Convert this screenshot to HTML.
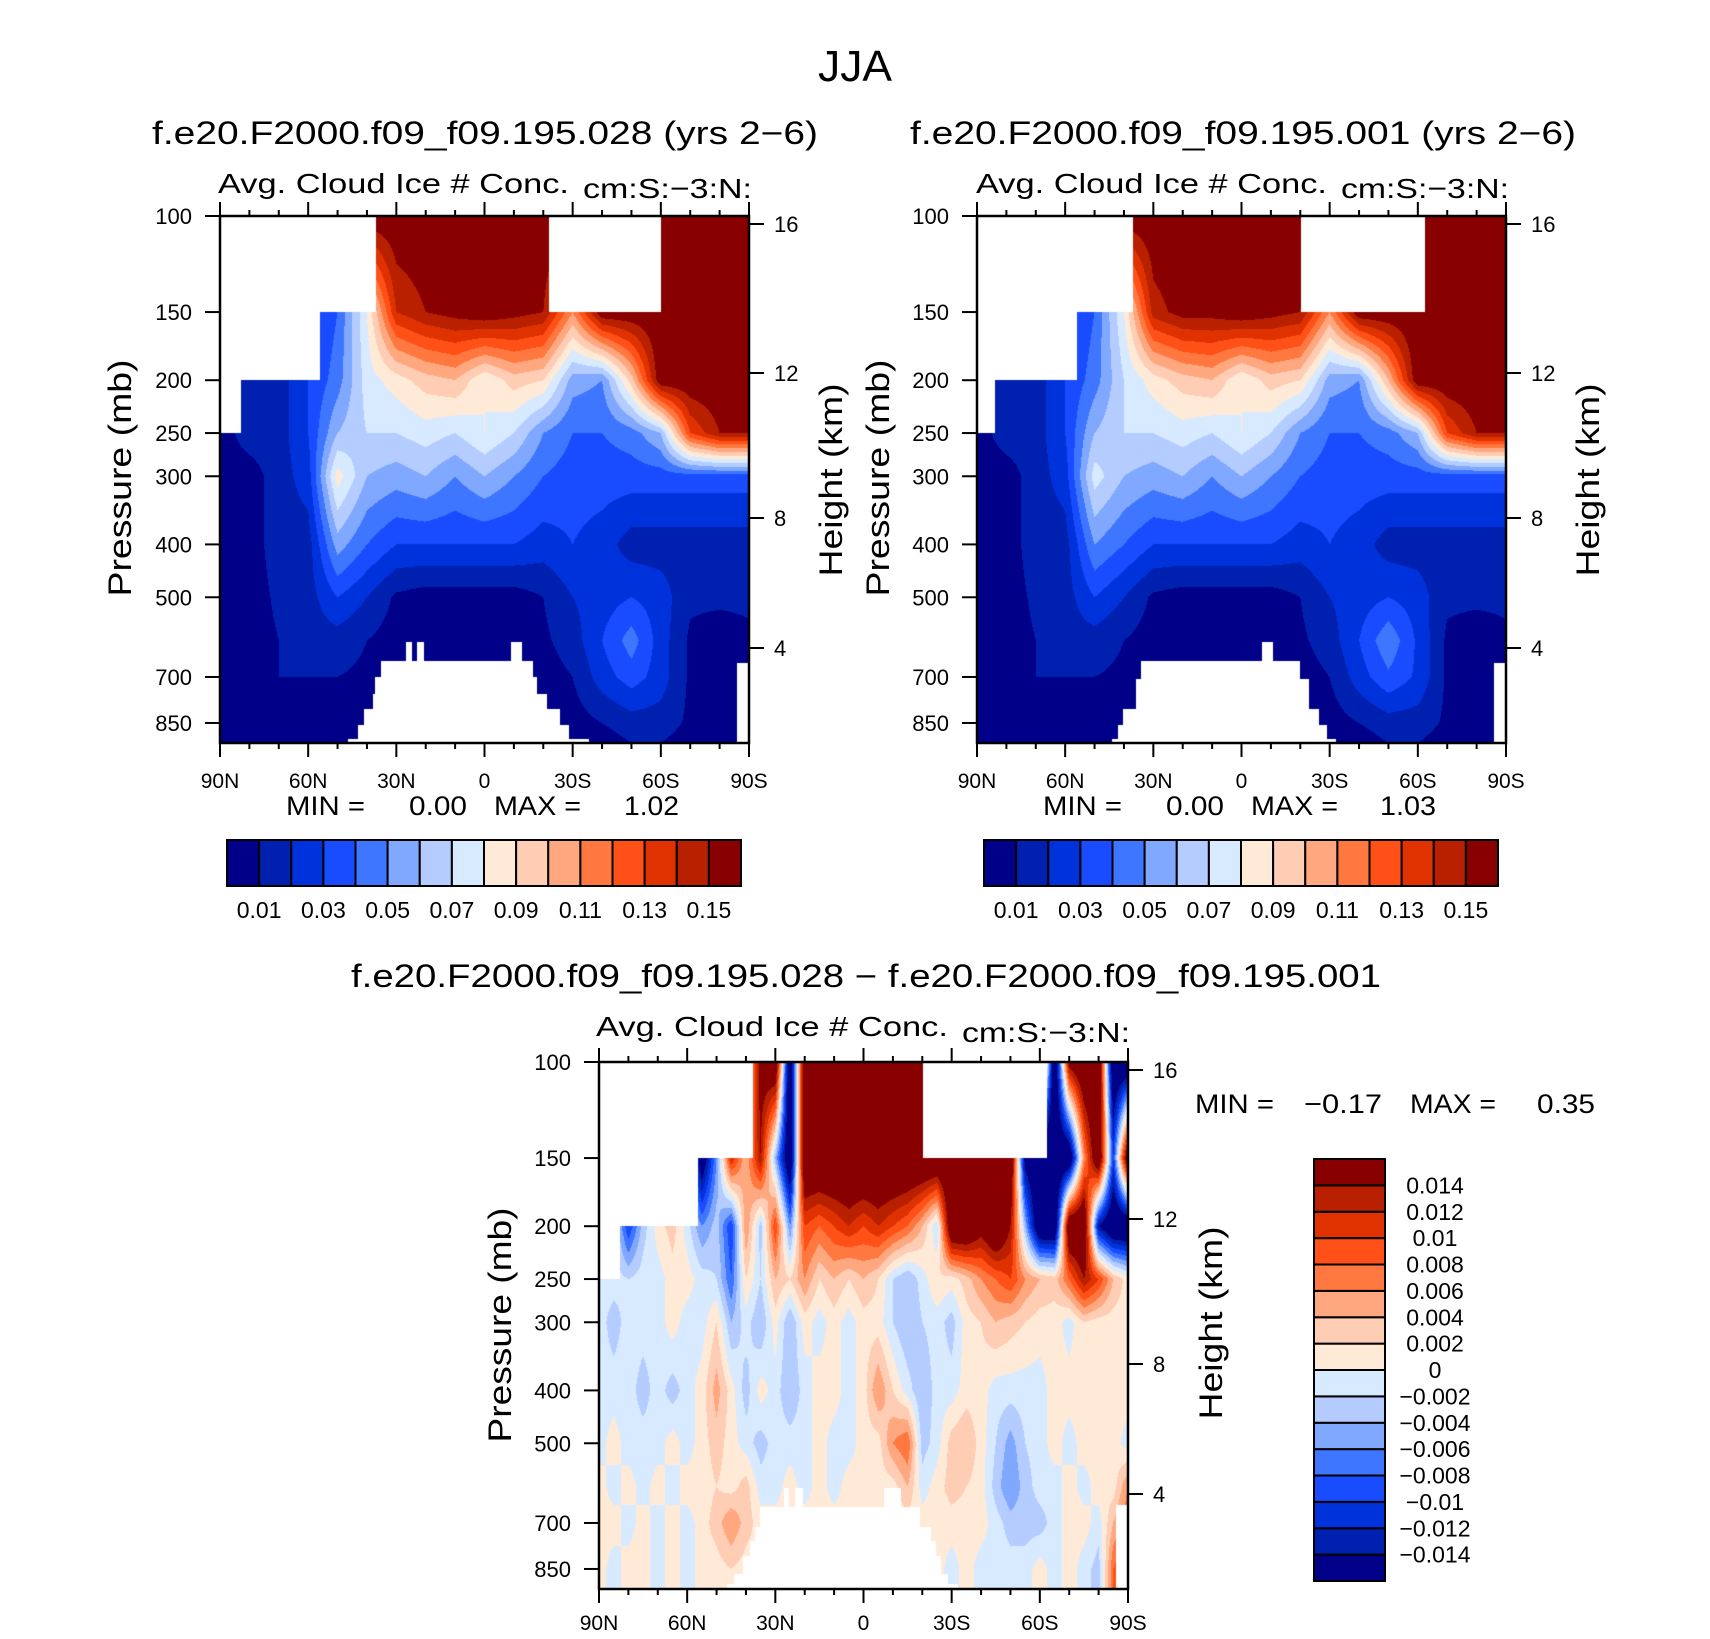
<!DOCTYPE html>
<html><head><meta charset="utf-8">
<style>
body{margin:0;background:#fff;width:1710px;height:1639px;overflow:hidden;position:relative;font-family:"Liberation Sans",sans-serif}
canvas{position:absolute}
#ov{position:absolute;left:0;top:0}
</style></head><body>
<canvas id="c1" width="529" height="527" style="left:220px;top:216px"></canvas>
<canvas id="c2" width="529" height="527" style="left:977px;top:216px"></canvas>
<canvas id="c3" width="529" height="527" style="left:599px;top:1062px"></canvas>
<svg id="ov" width="1710" height="1639" font-family="Liberation Sans, sans-serif" fill="#000">
<text x="818" y="81" font-size="44" textLength="74" lengthAdjust="spacingAndGlyphs">JJA</text>
<text x="152" y="144" font-size="32" textLength="666" lengthAdjust="spacingAndGlyphs">f.e20.F2000.f09_f09.195.028 (yrs 2−6)</text>
<text x="910" y="144" font-size="32" textLength="666" lengthAdjust="spacingAndGlyphs">f.e20.F2000.f09_f09.195.001 (yrs 2−6)</text>
<text x="218" y="193" font-size="28" textLength="351" lengthAdjust="spacingAndGlyphs">Avg. Cloud Ice # Conc.</text>
<text x="583" y="198" font-size="28" textLength="169" lengthAdjust="spacingAndGlyphs">cm:S:−3:N:</text>
<text x="976" y="193" font-size="28" textLength="351" lengthAdjust="spacingAndGlyphs">Avg. Cloud Ice # Conc.</text>
<text x="1341" y="198" font-size="28" textLength="168" lengthAdjust="spacingAndGlyphs">cm:S:−3:N:</text>
<text x="351" y="987" font-size="32" textLength="1030" lengthAdjust="spacingAndGlyphs">f.e20.F2000.f09_f09.195.028 − f.e20.F2000.f09_f09.195.001</text>
<text x="596" y="1036" font-size="28" textLength="352" lengthAdjust="spacingAndGlyphs">Avg. Cloud Ice # Conc.</text>
<text x="962" y="1042" font-size="28" textLength="168" lengthAdjust="spacingAndGlyphs">cm:S:−3:N:</text>
<g font-size="27">
<text x="286" y="815" textLength="79" lengthAdjust="spacingAndGlyphs">MIN =</text>
<text x="409" y="815" textLength="58" lengthAdjust="spacingAndGlyphs">0.00</text>
<text x="494" y="815" textLength="87" lengthAdjust="spacingAndGlyphs">MAX =</text>
<text x="624" y="815" textLength="55" lengthAdjust="spacingAndGlyphs">1.02</text>
</g>
<g font-size="27">
<text x="1043" y="815" textLength="79" lengthAdjust="spacingAndGlyphs">MIN =</text>
<text x="1166" y="815" textLength="58" lengthAdjust="spacingAndGlyphs">0.00</text>
<text x="1251" y="815" textLength="87" lengthAdjust="spacingAndGlyphs">MAX =</text>
<text x="1380" y="815" textLength="56" lengthAdjust="spacingAndGlyphs">1.03</text>
</g>
<g font-size="27">
<text x="1195" y="1113" textLength="79" lengthAdjust="spacingAndGlyphs">MIN =</text>
<text x="1304" y="1113" textLength="78" lengthAdjust="spacingAndGlyphs">−0.17</text>
<text x="1410" y="1113" textLength="86" lengthAdjust="spacingAndGlyphs">MAX =</text>
<text x="1537" y="1113" textLength="58" lengthAdjust="spacingAndGlyphs">0.35</text>
</g>
<text font-size="32" text-anchor="middle" transform="translate(131,478) rotate(-90)" textLength="237" lengthAdjust="spacingAndGlyphs">Pressure (mb)</text>
<text font-size="32" text-anchor="middle" transform="translate(889,478) rotate(-90)" textLength="237" lengthAdjust="spacingAndGlyphs">Pressure (mb)</text>
<text font-size="32" text-anchor="middle" transform="translate(511,1325) rotate(-90)" textLength="235" lengthAdjust="spacingAndGlyphs">Pressure (mb)</text>
<text font-size="32" text-anchor="middle" transform="translate(842,480) rotate(-90)" textLength="193" lengthAdjust="spacingAndGlyphs">Height (km)</text>
<text font-size="32" text-anchor="middle" transform="translate(1599,480) rotate(-90)" textLength="193" lengthAdjust="spacingAndGlyphs">Height (km)</text>
<text font-size="32" text-anchor="middle" transform="translate(1222,1323) rotate(-90)" textLength="193" lengthAdjust="spacingAndGlyphs">Height (km)</text>
<g id="axes"></g>
</svg>
<script>
// ---- shared data ----
const lats10 = [90,80,70,60,50,40,30,20,10,0,-10,-20,-30,-40,-50,-60,-70,-80,-90];
const lats5 = [90,85,80,75,70,65,60,55,50,45,40,35,30,25,20,15,10,5,0,-5,-10,-15,-20,-25,-30,-35,-40,-45,-50,-55,-60,-65,-70,-75,-80,-85,-90];
const plevs = [100,150,200,250,300,400,500,600,700,850,925];
const palette = ["#000088","#0020b0","#0032dc","#1a4cff","#3f76ff","#80a8ff","#b4ccff","#d8eaff","#ffead8","#ffccb4","#ffa880","#ff7840","#ff5018","#e03200","#b82000","#880000"];
const levelsTop = [1,2,3,4,5,6,7,8,9,10,11,12,13,14,15]; // hundredths
const levelsTopLabels = ["0.01","0.03","0.05","0.07","0.09","0.11","0.13","0.15"];
const levelsDiff = [-14,-12,-10,-8,-6,-4,-2,0,2,4,6,8,10,12,14]; // thousandths
const levelsDiffLabels = ["−0.014","−0.012","−0.01","−0.008","−0.006","−0.004","−0.002","0","0.002","0.004","0.006","0.008","0.01","0.012","0.014"];
const xTickLats = [90,60,30,0,-30,-60,-90];
const xTickLabels = ["90N","60N","30N","0","30S","60S","90S"];
const pTicks = [100,150,200,250,300,400,500,700,850];
const kmTicks = ["16","12","8","4"];

// field 1 (hundredths), rows = plevs, cols = lats10
const field1 = [
[.5,1.5,1.5,2,16,16,16,16,16,16,16,16,16,16,16,16,16,16,16],
[.5,1.5,1.5,2.5,4,8,14,15,15.5,16,15.5,15,11,16,16,16,16,16,16],
[.5,1.5,1.5,3,4.5,7.5,8.5,9.5,10,8,9.5,9,5.5,5,9.5,16,16,16,16],
[.5,1.5,1.5,3,6,7,7,7.5,7,8,7,5,4,4,4.5,6,13,15,15],
[.5,.5,1.5,2.5,8.5,6,5.5,6,5,6,5,4,3.5,3.5,3.5,3.5,3.5,3.5,3.5],
[.5,.5,1.5,1.5,5.5,4,3,3,3,3,3,2.5,3,2.5,1.5,1.5,1.5,1.5,1.5],
[.5,.5,1.2,1.5,3,2,.8,.5,.5,.5,.5,1,2,2.5,3,2.5,1.2,1.2,1.2],
[.5,.5,1,1.5,1.5,1,.5,.5,.5,.5,.5,.8,1.5,3,4.5,2.5,.8,.5,.8],
[.5,.5,1,1,1,.8,.5,.5,.5,.5,.5,.5,1,2.5,3.5,2.5,.8,.5,1],
[.5,.5,1,.5,.8,.5,.5,.5,.5,.5,.5,.5,.5,1,1.5,1.5,.8,.5,1.2],
[.5,.5,.5,.5,.5,.5,.5,.5,.5,.5,.5,.5,.5,.5,1,1,.5,.5,1]];
const field2 = [
[.5,1.5,1.5,2,16,16,16,16,16,16,16,16,16,16,16,16,16,16,16],
[.5,1.5,1.5,2.5,4,8,14.5,15.5,15.5,16,15.5,15,11,16,16,16,16,16,16],
[.5,1.5,1.5,3,4.5,7,8.5,9.5,10,8,9.5,9,5.5,5,10,16,16,16,16],
[.5,1.5,1.5,3,6,7,7,7.5,7,8,7,5,4,4,4.5,6,13,15,15],
[.5,.5,1.5,2.5,7.5,6,5.5,6,5,6,5,4,3.5,3.5,3.5,3.5,3.5,3.5,3.5],
[.5,.5,1.5,1.5,5,4,3,3,3,3,3,2.5,3,2.5,1.5,1.5,1.5,1.5,1.5],
[.5,.5,1.2,1.5,3,2,.8,.5,.5,.5,.5,1,2,2.5,3,2.5,1.2,1.2,1.2],
[.5,.5,1,1.5,1.5,1,.5,.5,.5,.5,.5,.8,1.5,3,4.8,2.8,.8,.5,.8],
[.5,.5,1,1,1,.8,.5,.5,.5,.5,.5,.5,1,2.5,3.8,2.8,.8,.5,1],
[.5,.5,1,.5,.8,.5,.5,.5,.5,.5,.5,.5,.5,1,1.5,1.5,.8,.5,1.2],
[.5,.5,.5,.5,.5,.5,.5,.5,.5,.5,.5,.5,.5,.5,1,1,.5,.5,1]];
// difference (thousandths), cols = lats5
const fieldDiff = [
[0,0,0,0,0,0,0,0,0,0,0,16,20,-20,20,20,20,20,20,20,20,20,20,20,20,20,20,20,20,20,20,-20,16,20,20,-20,-20],
[0,0,0,0,0,0,0,-18,-6,12,4,14,-4,-20,20,20,20,20,20,20,20,20,20,20,20,20,20,20,20,-16,-20,-20,-20,6,20,-10,20],
[-1,-1,-10,-3,1,3,-1,-6,-3,-10,6,-3,10,-6,10,8,10,12,10,12,10,8,4,-2,20,20,16,20,14,-4,-20,-20,20,20,-14,-20,-20],
[-1,-1,-2,-1,-1,1,1,-1,-2,-8,2,-2,4,2,6,2,4,2,4,2,-2,-4,-1,2,1,3,6,8,10,6,4,3,8,14,10,4,1],
[-1,-3,-1,-1,-1,1,-1,-1,2,-4,-1,-4,1,-4,1,-1,1,-1,1,1,-2,-4,-2,-1,-3,1,2,4,3,2,1,1,-1,2,1,1,1],
[-1,-1,-1,-3,-1,-3,-1,1,5,1,-3,1,-1,-4,-1,1,1,-1,1,6,2,-1,-4,-1,-1,1,1,-1,-1,-1,-1,1,1,1,1,1,1],
[-1,1,-1,-1,-1,1,-1,1,3,1,-1,-3,-1,-1,-1,1,-1,-1,1,1,6,8,-3,-1,3,4,1,-2,-5,-2,-1,1,-1,1,1,1,-1],
[1,-1,1,-1,1,-1,1,1,2,1,3,-1,-1,1,-1,1,-1,1,1,1,1,4,-1,1,3,2,1,-3,-6,-3,-1,-1,1,-1,1,1,6],
[1,1,-1,1,-1,1,-1,1,3,6,3,1,1,1,1,1,1,1,1,1,1,1,1,1,1,1,1,-1,-3,-3,-3,-1,1,1,-1,4,8],
[1,-1,1,1,-1,1,-1,1,1,2,1,1,1,1,1,1,1,1,1,1,1,1,-1,1,-1,1,-1,-1,-1,-1,1,-1,1,-1,-3,8,12],
[1,-1,1,1,-1,1,-1,1,1,2,1,1,1,1,1,1,1,1,1,1,1,1,-1,1,-1,1,-1,-1,-1,-1,1,-1,1,-1,-3,8,12]];

// missing-data regions [latN, latS, pressure]
const topMask1 = [[90,37,150],[90,56,200],[90,83,250],[-22,-60,150]];
const botMask1 = [[35.3,-16.4,655],[37.2,-18,700],[38,-21.3,752],[41,-25.8,803],[43,-28.9,858],[46.4,-35.4,911],[26.6,24.8,603],[23.1,20.5,603],[-9.1,-12.6,603],[-86,-90,660]];
const topMask2 = [[90,37,150],[90,56,200],[90,84,250],[-20.2,-62.5,150]];
const botMask2 = [[34.3,-20,655],[-6.9,-10.6,603],[36,-22.8,705],[40.3,-26.5,800],[42,-29,858],[44,-32,911],[-86,-90,660]];
const topMask3 = [[90,37.5,150],[90,56.2,200],[90,82.8,250],[-20.2,-62.4,150]];
const botMask3 = [[35.3,-19.2,653],[36.9,-22.8,713],[38.7,-24.5,755],[41,-26.4,805],[44,-28.8,870],[46.4,-32.3,905],[27,25.2,604],[23.2,20.5,604],[-7,-12.6,604],[-86,-90,650]];

const rgb = palette.map(h=>[parseInt(h.substr(1,2),16),parseInt(h.substr(3,2),16),parseInt(h.substr(5,2),16)]);
const lnTop = Math.log(100), lnBot = Math.log(925);

function drawField(id, grid, lats, levels, tops, bots){
  const cv = document.getElementById(id), ctx = cv.getContext('2d');
  const w = cv.width, h = cv.height, img = ctx.createImageData(w,h);
  const lnp = plevs.map(Math.log);
  for(let py=0; py<h; py++){
    const lp = lnTop + (py+0.5)/h*(lnBot-lnTop), p = Math.exp(lp);
    let i=0; while(i<plevs.length-2 && lp>lnp[i+1]) i++;
    const t = Math.max(0,Math.min(1,(lp-lnp[i])/(lnp[i+1]-lnp[i])));
    for(let px=0; px<w; px++){
      const lat = 90 - (px+0.5)/w*180;
      let masked=false;
      for(const m of tops) if(lat<=m[0]&&lat>=m[1]&&p<m[2]) masked=true;
      for(const m of bots) if(lat<=m[0]&&lat>=m[1]&&p>m[2]) masked=true;
      const k=(py*w+px)*4;
      if(masked){img.data[k]=255;img.data[k+1]=255;img.data[k+2]=255;img.data[k+3]=255;continue;}
      const fj=(lats[0]-lat)/(lats[0]-lats[1]);
      let j=Math.min(lats.length-2,Math.floor(fj)); const u=fj-j;
      const v=(grid[i][j]*(1-u)+grid[i][j+1]*u)*(1-t)+(grid[i+1][j]*(1-u)+grid[i+1][j+1]*u)*t;
      let idx=0; for(const L of levels) if(v>=L) idx++;
      const c=rgb[idx];
      img.data[k]=c[0];img.data[k+1]=c[1];img.data[k+2]=c[2];img.data[k+3]=255;
    }
  }
  ctx.putImageData(img,0,0);
}
drawField('c1',field1,lats10,levelsTop,topMask1,botMask1);
drawField('c2',field2,lats10,levelsTop,topMask2,botMask2);
drawField('c3',fieldDiff,lats5,levelsDiff,topMask3,botMask3);

const NS='http://www.w3.org/2000/svg';
const axes=document.getElementById('axes');
function el(tag,attrs,parent){const e=document.createElementNS(NS,tag);for(const k in attrs)e.setAttribute(k,attrs[k]);(parent||axes).appendChild(e);return e;}
const kmOffsets=[8,157,302,432];
function drawAxes(P,name,xlabY,plabX,kmX){
  const g=el('g',{});
  
  
  const X=lat=>P.x+(90-lat)/180*P.w;
  const Y=p=>P.y+(Math.log(p)-lnTop)/(lnBot-lnTop)*P.h;
  for(let lat=90;lat>=-90;lat-=10){
    const major=lat%30===0, L=major?14:6;
    el('line',{x1:X(lat),x2:X(lat),y1:P.y+P.h,y2:P.y+P.h+L,stroke:'#000','stroke-width':2},g);
    el('line',{x1:X(lat),x2:X(lat),y1:P.y,y2:P.y-L,stroke:'#000','stroke-width':2},g);
  }
  xTickLats.forEach((lat,i)=>{
    const t=el('text',{x:X(lat),y:xlabY,'font-size':21,'text-anchor':'middle'},g);
    
    
    t.textContent=xTickLabels[i];
  });
  pTicks.forEach(p=>{
    el('line',{x1:P.x-15,x2:P.x,y1:Y(p),y2:Y(p),stroke:'#000','stroke-width':2},g);
    const t=el('text',{x:plabX,y:Y(p)+8,'font-size':22,'text-anchor':'end'},g);
    
    
    t.textContent=String(p);
  });
  kmTicks.forEach((k,i)=>{
    const y=P.y+kmOffsets[i]*P.h/527;
    el('line',{x1:P.x+P.w,x2:P.x+P.w+15,y1:y,y2:y,stroke:'#000','stroke-width':2},g);
    const t=el('text',{x:kmX,y:y+8,'font-size':22},g);
    
    
    t.textContent=k;
  });
  const f=el('rect',{x:P.x,y:P.y,width:P.w,height:P.h,fill:'none',stroke:'#000','stroke-width':2.5},g);
  
  
}
drawAxes({x:220,y:216,w:529,h:527},'panel1',788,192,774);
drawAxes({x:977,y:216,w:529,h:527},'panel2',788,949,1531);
drawAxes({x:599,y:1062,w:529,h:527},'panel3',1630,571,1153);

function hColorbar(x0,x1,y0,y1,name){
  const g=el('g',{});
  
  
  const bw=(x1-x0)/palette.length;
  palette.forEach((c,i)=>{el('rect',{x:x0+i*bw,y:y0,width:bw,height:y1-y0,fill:c,stroke:'#000','stroke-width':2},g);});
  levelsTopLabels.forEach((s,i)=>{
    const t=el('text',{x:x0+(2*i+1)*bw,y:918,'font-size':23,'text-anchor':'middle'},g);
    
    
    t.textContent=s;
  });
}
hColorbar(227,741,840,886,'panel1-colorbar');
hColorbar(984,1498,840,886,'panel2-colorbar');

(function(){
  const x0=1314,x1=1385,y0=1159,y1=1581;
  const g=el('g',{});
  
  
  const bh=(y1-y0)/palette.length;
  palette.forEach((c,i)=>{el('rect',{x:x0,y:y1-(i+1)*bh,width:x1-x0,height:bh,fill:c,stroke:'#000','stroke-width':2},g);});
  levelsDiffLabels.forEach((s,i)=>{
    const t=el('text',{x:1435,y:y1-(i+1)*bh+8,'font-size':23,'text-anchor':'middle'},g);
    
    
    t.textContent=s;
  });
})();
</script>
</body></html>
